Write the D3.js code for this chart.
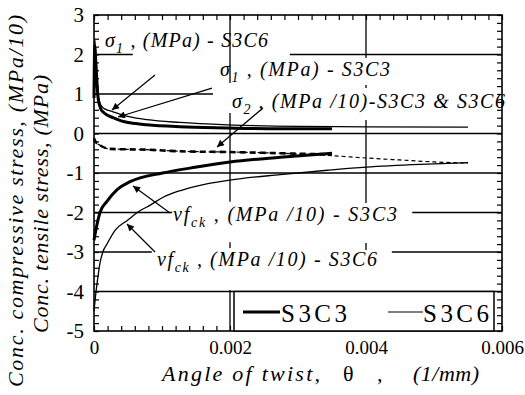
<!DOCTYPE html>
<html><head><meta charset="utf-8">
<script src="https://cdn.jsdelivr.net/npm/d3@7"></script>
</head>
<body style="margin:0;background:#fff">
<svg id="chart" width="525" height="395"></svg>
<script>
// ---------- data ----------
const xTicks = [0, 0.002, 0.004, 0.006];
const xTickLabels = ["0", "0.002", "0.004", "0.006"];
const yTicks = [3, 2, 1, 0, -1, -2, -3, -4, -5];
const yTickLabels = ["3", "2", "1", "0", "-1", "-2", "-3", "-4", "-5"];

// sigma1 (MPa) - S3C3 (thick)
const sig1C3Theta = [0, 0.00001, 0.00003, 0.00006, 0.0001, 0.00015, 0.00028, 0.0004, 0.00053, 0.00078, 0.00126, 0.00196, 0.00274, 0.0035];
const sig1C3 = [0.9, 2.2, 1.7, 0.9, 0.62, 0.52, 0.4, 0.32, 0.27, 0.22, 0.17, 0.14, 0.12, 0.12];
// sigma1 (MPa) - S3C6 (thin)
const sig1C6Theta = [0, 0.00001, 0.00003, 0.00006, 0.0001, 0.00015, 0.00028, 0.0004, 0.00053, 0.00078, 0.00126, 0.00196, 0.003, 0.004, 0.0055];
const sig1C6 = [1.0, 2.4, 1.9, 1.0, 0.72, 0.63, 0.55, 0.48, 0.42, 0.35, 0.28, 0.22, 0.18, 0.17, 0.16];
// sigma2 (MPa/10) - S3C3 (thick dashed)
const sig2C3Theta = [0, 0.00002, 0.00009, 0.00024, 0.00078, 0.00126, 0.002, 0.00274, 0.0035];
const sig2C3 = [-0.12, -0.2, -0.3, -0.39, -0.41, -0.45, -0.47, -0.5, -0.53];
// sigma2 (MPa/10) - S3C6 (thin dashed)
const sig2C6Theta = [0, 0.00002, 0.00009, 0.00024, 0.00078, 0.00126, 0.002, 0.00274, 0.0035, 0.004, 0.0045, 0.005, 0.0055];
const sig2C6 = [-0.12, -0.2, -0.3, -0.39, -0.41, -0.45, -0.47, -0.5, -0.56, -0.62, -0.67, -0.72, -0.75];
// v fck (MPa/10) - S3C3 (thick)
const vfckC3Theta = [0, 0.000044, 0.000088, 0.00019, 0.00034, 0.00053, 0.00101, 0.00151, 0.002, 0.00274, 0.0035];
const vfckC3 = [-2.7, -2.3, -2.0, -1.72, -1.42, -1.22, -1.0, -0.85, -0.72, -0.6, -0.5];
// v fck (MPa/10) - S3C6 (thin)
const vfckC6Theta = [0, 0.00003, 0.00006, 0.000088, 0.00013, 0.00019, 0.00031, 0.00049, 0.00068, 0.00082, 0.00101, 0.00126, 0.00151, 0.002, 0.00274, 0.00343, 0.004, 0.0048, 0.0055];
const vfckC6 = [-4.5, -4.0, -3.6, -3.28, -3.0, -2.8, -2.45, -2.2, -1.95, -1.82, -1.62, -1.45, -1.33, -1.18, -1.04, -0.93, -0.85, -0.78, -0.74];

const legendNames = ["S3C3", "S3C6"];

// ---------- layout ----------
const FONT = "Liberation Serif";
const W = 525, H = 395;
const svg = d3.select("#chart").attr("font-family", FONT);
svg.append("rect").attr("width", W).attr("height", H).attr("fill", "#fff");

const x = d3.scaleLinear().domain([0, 0.006]).range([94, 502]);
const y = d3.scaleLinear().domain([-5, 3]).range([331, 15]);

// grid segments (broken by the labels, as in the original)
const hGrid = [[2, 0, 0.00057], [2, 0.00288, 0.006], [1, 0, 0.00175], [0, 0, 0.006], [-1, 0, 0.006],
  [-2, 0, 0.00115], [-2, 0.00468, 0.006], [-3, 0, 0.00085], [-3, 0.00438, 0.006], [-4, 0, 0.006]];
const vGrid = [[0.002, 3, 1.28], [0.002, 0.52, -1.73], [0.002, -2.75, -2.9], [0.002, -3.96, -5],
  [0.004, 3, 1.91], [0.004, 1.23, 1.15], [0.004, 0.34, -1.76], [0.004, -2.77, -2.95]];
const grid = svg.append("g").attr("stroke", "#000").attr("stroke-width", 1.3);
grid.selectAll(".h").data(hGrid).join("line")
  .attr("x1", d => x(d[1])).attr("x2", d => x(d[2])).attr("y1", d => y(d[0])).attr("y2", d => y(d[0]));
grid.selectAll(".v").data(vGrid).join("line")
  .attr("x1", d => x(d[0])).attr("x2", d => x(d[0])).attr("y1", d => y(d[1])).attr("y2", d => y(d[2]));

// minor ticks via axes
const xMinor = d3.range(0, 0.00601, 0.0002);
const yMinor = d3.range(-5, 3.001, 0.2);
function styleAxis(g) { g.select(".domain").remove(); g.selectAll("line").attr("stroke", "#000").attr("stroke-width", 1.2); }
svg.append("g").attr("transform", `translate(0,${y(-5)})`)
  .call(d3.axisBottom(x).tickValues(xMinor).tickSize(-5).tickFormat("")).call(styleAxis);
svg.append("g").attr("transform", `translate(0,${y(3)})`)
  .call(d3.axisTop(x).tickValues(xMinor).tickSize(-5).tickFormat("")).call(styleAxis);
svg.append("g").attr("transform", `translate(${x(0)},0)`)
  .call(d3.axisLeft(y).tickValues(yMinor).tickSize(-5).tickFormat("")).call(styleAxis);
svg.append("g").attr("transform", `translate(${x(0.006)},0)`)
  .call(d3.axisRight(y).tickValues(yMinor).tickSize(-5).tickFormat("")).call(styleAxis);

// frame
svg.append("rect").attr("x", x(0)).attr("y", y(3)).attr("width", x(0.006) - x(0)).attr("height", y(-5) - y(3))
  .attr("fill", "none").attr("stroke", "#000").attr("stroke-width", 1.6);

// tick labels
const xl = svg.append("g").attr("transform", `translate(0,${y(-5)})`)
  .call(d3.axisBottom(x).tickValues(xTicks).tickSize(0).tickPadding(10).tickFormat((d, i) => xTickLabels[i]));
xl.select(".domain").remove();
xl.attr("font-family", FONT);
xl.selectAll("text").attr("font-size", 19).attr("font-family", FONT).attr("fill", "#000");
const yl = svg.append("g").attr("transform", `translate(${x(0)},0)`)
  .call(d3.axisLeft(y).tickValues(yTicks).tickSize(0).tickPadding(10).tickFormat((d, i) => yTickLabels[i]));
yl.select(".domain").remove();
yl.attr("font-family", FONT);
yl.selectAll("text").attr("font-size", 21).attr("font-family", FONT).attr("fill", "#000");

// ---------- curves ----------
function pts(t, v) { return t.map((d, i) => [d, v[i]]); }
const line = d3.line().x(d => x(d[0])).y(d => y(d[1])).curve(d3.curveMonotoneX);
const curves = [
  {d: pts(sig1C6Theta, sig1C6), w: 1.3, dash: null},
  {d: pts(sig1C3Theta, sig1C3), w: 3, dash: null},
  {d: pts(sig2C6Theta, sig2C6), w: 1.2, dash: "4,3"},
  {d: pts(sig2C3Theta, sig2C3), w: 2.6, dash: "6,4"},
  {d: pts(vfckC6Theta, vfckC6), w: 1.3, dash: null},
  {d: pts(vfckC3Theta, vfckC3), w: 3, dash: null}
];
svg.append("g").selectAll("path").data(curves).join("path")
  .attr("d", c => line(c.d)).attr("fill", "none").attr("stroke", "#000")
  .attr("stroke-width", c => c.w).attr("stroke-dasharray", c => c.dash)
  .attr("stroke-linejoin", "round");

// ---------- annotations ----------
const ann = svg.append("g").attr("font-style", "italic").attr("font-size", 20).attr("font-family", FONT);
function label(tx, ty, sym, sub, rest, len) {
  const t = ann.append("text").attr("x", x(tx)).attr("y", y(ty)).attr("font-family", FONT)
    .attr("textLength", len).attr("lengthAdjust", "spacing");
  t.append("tspan").text(sym);
  t.append("tspan").attr("dy", 6).attr("font-size", 14).text(sub);
  t.append("tspan").attr("dy", -6).text(rest);
}
label(0.000162, 2.19, "σ", "1", " , (MPa) - S3C6", 163);
label(0.001853, 1.456, "σ", "1", " , (MPa) - S3C3", 170);
label(0.002029, 0.646, "σ", "2", " ,  (MPa /10)-S3C3 & S3C6", 273);
label(0.001162, -2.215, "vf", "ck", " ,  (MPa /10) - S3C3", 224);
label(0.000926, -3.354, "vf", "ck", " ,  (MPa /10) - S3C6", 220);

// arrows
const defs = svg.append("defs");
defs.append("marker").attr("id", "ah").attr("viewBox", "0 0 10 10").attr("refX", 10).attr("refY", 5)
  .attr("markerWidth", 9).attr("markerHeight", 7).attr("markerUnits", "userSpaceOnUse").attr("orient", "auto")
  .append("path").attr("d", "M0,0 L10,5 L0,10 Z").attr("fill", "#000");
const arrows = [[0.000897, 1.48, 0.000265, 0.595], [0.001735, 1.15, 0.000353, 0.418],
  [0.002485, 0.646, 0.001809, -0.342], [0.001118, -2.01, 0.000574, -1.33], [0.000897, -3.0, 0.000485, -2.29]];
svg.append("g").selectAll("line").data(arrows).join("line")
  .attr("x1", d => x(d[0])).attr("y1", d => y(d[1])).attr("x2", d => x(d[2])).attr("y2", d => y(d[3]))
  .attr("stroke", "#000").attr("stroke-width", 1.2).attr("marker-end", "url(#ah)");

// ---------- axis titles ----------
const xt = svg.append("g").attr("font-style", "italic").attr("font-size", 22).attr("font-family", FONT);
xt.append("text").attr("x", 162).attr("y", 381).attr("font-family", FONT).attr("textLength", 158).attr("lengthAdjust", "spacing").text("Angle of twist,");
xt.append("text").attr("x", 343).attr("y", 381).attr("font-family", FONT).attr("font-style", "normal").text("θ");
xt.append("text").attr("x", 377).attr("y", 381).attr("font-family", FONT).text(",");
xt.append("text").attr("x", 413).attr("y", 381).attr("font-family", FONT).attr("textLength", 66).attr("lengthAdjust", "spacing").text("(1/mm)");

svg.append("text").attr("transform", "translate(23,201) rotate(-90)").attr("text-anchor", "middle")
  .attr("font-family", FONT).attr("font-style", "italic").attr("font-size", 22)
  .attr("textLength", 372).attr("lengthAdjust", "spacing")
  .text("Conc. compressive stress, (MPa/10)");
svg.append("text").attr("transform", "translate(48,204) rotate(-90)").attr("text-anchor", "middle")
  .attr("font-family", FONT).attr("font-style", "italic").attr("font-size", 22)
  .attr("textLength", 258).attr("lengthAdjust", "spacing")
  .text("Conc. tensile stress, (MPa)");

// ---------- legend ----------
const lg = svg.append("g").attr("font-family", FONT);
lg.append("rect").attr("x", 234).attr("y", y(-4)).attr("width", 260).attr("height", y(-5) - y(-4))
  .attr("fill", "#fff").attr("stroke", "#000").attr("stroke-width", 1.5);
const legItems = [{name: legendNames[0], w: 3, x0: 243, x1: 280, tx: 281},
                  {name: legendNames[1], w: 1.2, x0: 388, x1: 423, tx: 423}];
legItems.forEach(it => {
  lg.append("line").attr("x1", it.x0).attr("x2", it.x1).attr("y1", 312).attr("y2", 312)
    .attr("stroke", "#000").attr("stroke-width", it.w);
  lg.append("text").attr("x", it.tx).attr("y", 322).attr("font-size", 25).attr("font-family", FONT)
    .attr("textLength", 66).attr("lengthAdjust", "spacing").text(it.name);
});
</script></body></html>
